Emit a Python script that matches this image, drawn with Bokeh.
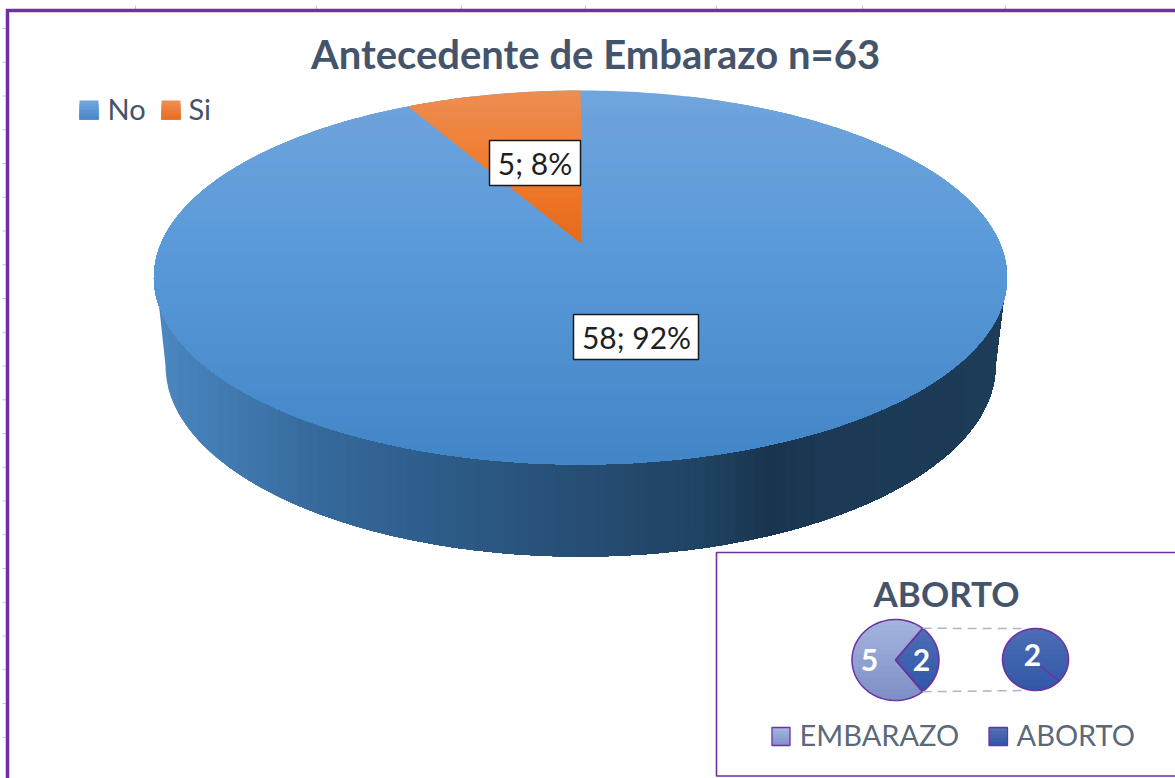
import numpy as np
from bokeh.plotting import figure
from bokeh.models import Range1d
from bokeh.core.properties import value
from bokeh.embed import file_html
from bokeh.resources import INLINE

TITLE = "Antecedente de Embarazo n=63"
pie_labels = ["No", "Si"]
pie_values = [58, 5]
inset_title = "ABORTO"
inset_labels = ["EMBARAZO", "ABORTO"]
inset_values = [5, 2]
second_values = [2]

PURPLE = "#7030A0"
SLATE = "#44546A"
FONT = value("Lato")

p = figure(width=1175, height=778, output_backend="svg", toolbar_location=None,
           x_range=Range1d(0, 1175), y_range=Range1d(778, 0),
           min_border=0, outline_line_color=None,
           background_fill_color="white", border_fill_color="white")
p.axis.visible = False
p.grid.visible = False


def hex2rgb(h):
    return np.array([int(h[i:i + 2], 16) for i in (1, 3, 5)], float)


def ramp(stops, t):
    xs = [s[0] for s in stops]
    c = [np.interp(t, xs, [hex2rgb(s[1])[k] for s in stops]) for k in range(3)]
    return "#%02x%02x%02x" % tuple(int(round(v)) for v in c)


def clip_ge(pts, axis, lim):
    """Keep the part of a polygon with coordinate >= lim."""
    out = []
    n = len(pts)
    for i in range(n):
        a, b = pts[i], pts[(i + 1) % n]
        ina, inb = a[axis] >= lim, b[axis] >= lim
        if ina:
            out.append(a)
        if ina != inb:
            t = (lim - a[axis]) / (b[axis] - a[axis])
            out.append(a + t * (b - a))
    return np.array(out) if out else None


def gradient_patch(pts, axis, stops, n):
    pts = np.asarray(pts, float)
    lo, hi = pts[:, axis].min(), pts[:, axis].max()
    for lim in np.linspace(lo, hi, n, endpoint=False):
        c = clip_ge(pts, axis, lim)
        if c is None or len(c) < 3:
            continue
        col = ramp(stops, lim)
        p.patch(c[:, 0], c[:, 1], fill_color=col, line_color=None)


# ---- main pie in perspective
CX, AY, K, A, B = 580.0, 242.0, 0.187, 180.4, 419.0


def persp(deg):
    """deg is clockwise from 12 o'clock."""
    r = np.radians(deg)
    u, v = np.sin(r), np.cos(r)
    d = 1 + K * v
    return np.column_stack([CX + B * u / d, AY - A * v / d])


top_ring = persp(np.linspace(0, 360, 361)[:-1])
rim_t = np.radians(np.linspace(0, 180, 181))
rim = np.column_stack([CX - 415 * np.cos(rim_t), 365 + 191 * np.sin(rim_t)])
wall = np.vstack([[[158, 300]], rim, [[1003, 300]]])
wall_stops = [(157, "#4a86c0"), (320, "#35689a"), (430, "#2d5d89"), (580, "#264e74"),
              (700, "#1f4262"), (765, "#19344d"), (820, "#1c3a56"), (1003, "#1d3c58")]
gradient_patch(wall, 0, wall_stops, 85)

blue_stops = [(90, "#70a4dc"), (242, "#5a9ad9"), (464, "#4285c6")]
gradient_patch(top_ring, 1, blue_stops, 60)

total = sum(pie_values)
start = 360 * pie_values[0] / total
orange = np.vstack([[[CX, AY]], persp(np.linspace(start, 360, 30))])
orange_stops = [(90, "#ee8d52"), (165, "#ef7b2c"), (242, "#e7691a")]
gradient_patch(orange, 1, orange_stops, 24)

# ---- data labels of the main pie
boxes = [(573, 698, 314, 359, 636, 336), (489, 580, 140, 185, 534.5, 162.5)]
for v, (x0, x1, y0, y1, tx, ty) in zip(pie_values, boxes):
    p.quad(left=[x0], right=[x1], top=[y0], bottom=[y1], fill_color="white",
           line_color="#1a1a1a", line_width=1.5)
    p.text([tx], [ty], text=[f"{v}; {round(100 * v / total)}%"], text_font=FONT,
           text_font_size="30px", text_color="#1f1f1f", text_align="center",
           text_baseline="middle")

# ---- title and legend
p.text([595], [53], text=[TITLE], text_font=FONT, text_font_style="bold",
       text_font_size="40px", text_color=SLATE, text_align="center",
       text_baseline="middle")
legend_swatch = [(79, 98, blue_stops[0][1], blue_stops[2][1]),
                 (161, 180, orange_stops[0][1], orange_stops[2][1])]
for (x0, x1, c0, c1) in legend_swatch:
    sq = [[x0, 100], [x1, 100], [x1, 119], [x0, 119]]
    gradient_patch(sq, 1, [(100, c0), (119, c1)], 6)
for lab, x in zip(pie_labels, [107, 188]):
    p.text([x], [108], text=[lab], text_font=FONT, text_font_size="29px",
           text_color=SLATE, text_align="left", text_baseline="middle")

# ---- sheet ruler marks and chart frame
tick_x = [135, 316, 461, 585, 716, 862, 1005]
p.segment(x0=tick_x, x1=tick_x, y0=[5] * len(tick_x), y1=[9] * len(tick_x),
          line_color="#c8c8c8", line_width=1)
tick_y = [28 + 33.75 * i for i in range(22)]
p.segment(x0=[2] * 22, x1=[6] * 22, y0=tick_y, y1=tick_y, line_color="#c8c8c8", line_width=1)
p.line([7, 7, 1175], [778, 10, 10], line_color=PURPLE, line_width=3.5, line_join="miter")

# ---- inset
p.quad(left=[716], right=[1185], top=[552], bottom=[775.5], fill_color="white",
       line_color=PURPLE, line_width=1.6)
p.text([946], [592], text=[inset_title], text_font=FONT, text_font_style="bold",
       text_font_size="35px", text_color=SLATE, text_align="center", text_baseline="middle")

LIGHT = [(619, "#a3b3de"), (700, "#7b8dc4")]
DARK = [(620, "#506fb6"), (700, "#2a53a4")]
ix, iy, irx, iry = 895.0, 659.5, 43.5, 40.5
half = 180 * inset_values[1] / sum(inset_values)


def arc(cx, cy, rx, ry, a0, a1, n=90):
    t = np.radians(np.linspace(a0, a1, n))
    return np.column_stack([cx + rx * np.cos(t), cy + ry * np.sin(t)])


light = np.vstack([[[ix, iy]], arc(ix, iy, irx, iry, half, 360 - half)])
dark = np.vstack([[[ix, iy]], arc(ix, iy, irx, iry, -half, half, 40)])
gradient_patch(light, 1, LIGHT, 14)
gradient_patch(dark, 1, DARK, 10)
for shape in (light, dark):
    p.patch(shape[:, 0], shape[:, 1], fill_color=None, line_color=PURPLE, line_width=1.5)

jx, jy, jrx, jry = 1035.0, 659.0, 33.0, 31.0
circle = arc(jx, jy, jrx, jry, 0, 360, 120)[:-1]
gradient_patch(circle, 1, DARK, 12)
p.patch(circle[:, 0], circle[:, 1], fill_color=None, line_color=PURPLE, line_width=1.5)
edge = arc(jx, jy, jrx, jry, half - 7, half - 7, 1)
p.line([1039, edge[0, 0]], [665, edge[0, 1]], line_color=PURPLE, line_width=1.5)

corner = arc(ix, iy, irx, iry, half, half, 1)[0]
p.line([corner[0], 1025], [2 * iy - corner[1], 628], line_color="#a9b7c8", line_width=1.5, line_dash="9 6")
p.line([corner[0], 1025], [corner[1], 690], line_color="#a9b7c8", line_width=1.5, line_dash="9 6")

for val, x, y in [(inset_values[0], 869, 659), (inset_values[1], 921, 659), (second_values[0], 1032, 654)]:
    p.text([x], [y], text=[str(val)], text_font=FONT, text_font_style="bold", text_font_size="30px",
           text_color="white", text_align="center", text_baseline="middle")

inset_swatches = [(771.5, 789.5, LIGHT), (988.5, 1007, DARK)]
for (x0, x1, st) in inset_swatches:
    sq = [[x0, 727], [x1, 727], [x1, 745], [x0, 745]]
    gradient_patch(sq, 1, [(727, st[0][1]), (745, st[1][1])], 5)
    p.quad(left=[x0], right=[x1], top=[727], bottom=[745], fill_color=None,
           line_color=PURPLE, line_width=1.3)
for lab, x in zip(inset_labels, [799, 1016]):
    p.text([x], [734], text=[lab], text_font=FONT, text_font_size="29px",
           text_color=SLATE, text_align="left", text_baseline="middle", text_alpha=0.9)

open("out.html", "w").write(file_html(p, INLINE))
